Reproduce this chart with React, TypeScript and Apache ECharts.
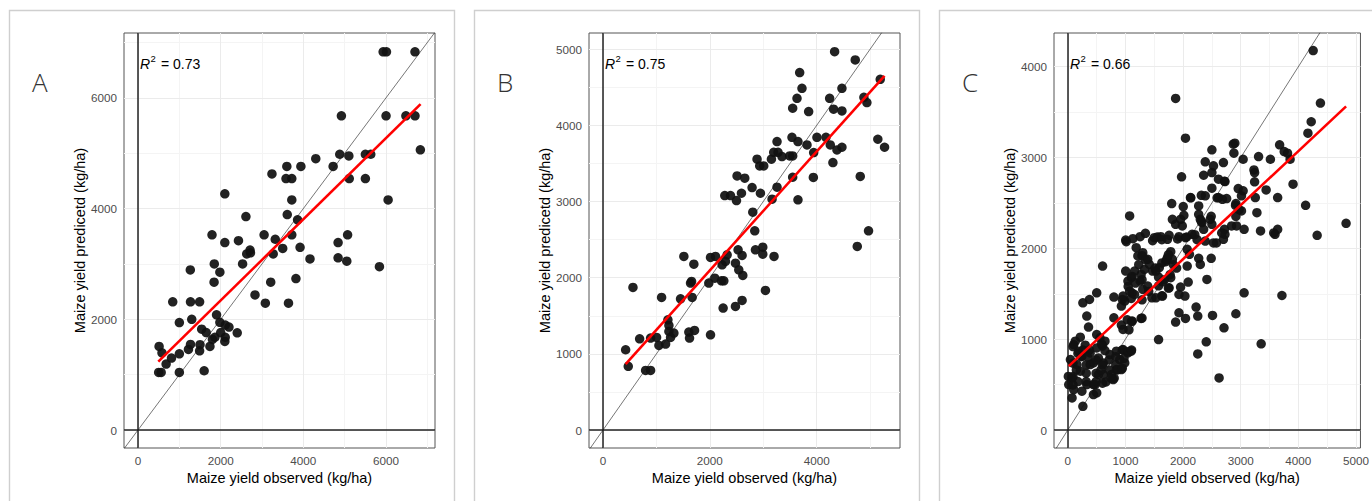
import React, { useEffect, useRef } from "react";
import * as echarts from "echarts";

// ---------- labels ----------
const panelLetters = ["A", "B", "C"];
const r2Values = ["0.73", "0.75", "0.66"];
const xAxisTitle = "Maize yield observed (kg/ha)";
const yAxisTitle = "Maize yield predicetd (kg/ha)";

// ---------- axes (ticks, minor grid, limits) ----------
const xTicksA = [0, 2000, 4000, 6000];
const yTicksA = [0, 2000, 4000, 6000];
const xMinorA = [1000, 3000, 5000, 7000];
const yMinorA = [1000, 3000, 5000, 7000];
const xLimA = [-339, 7184];
const yLimA = [-325, 7170];

const xTicksB = [0, 2000, 4000];
const yTicksB = [0, 1000, 2000, 3000, 4000, 5000];
const xMinorB = [1000, 3000, 5000];
const yMinorB = [500, 1500, 2500, 3500, 4500];
const xLimB = [-262, 5560];
const yLimB = [-236, 5213];

const xTicksC = [0, 1000, 2000, 3000, 4000, 5000];
const yTicksC = [0, 1000, 2000, 3000, 4000];
const xMinorC = [500, 1500, 2500, 3500, 4500];
const yMinorC = [500, 1500, 2500, 3500];
const xLimC = [-239, 5077];
const yLimC = [-198, 4371];

// ---------- data: [observed, predicted] ----------
const pointsA = [
  [500, 1040], [560, 1040], [1000, 1040], [1600, 1070],
  [680, 1190], [810, 1300], [1000, 1375], [580, 1395], [510, 1510],
  [1220, 1455], [1490, 1430], [1270, 1545], [1500, 1540], [1740, 1510],
  [1800, 1635], [1860, 1675], [2100, 1600], [2110, 1675],
  [1540, 1820], [1650, 1760], [2000, 1760], [2400, 1755],
  [2110, 1895], [2200, 1860], [1900, 2080], [1980, 1945], [1000, 1940], [1300, 2000],
  [840, 2315], [1270, 2315], [1490, 2315],
  [1840, 2670], [1265, 2890], [1845, 3000], [1980, 2850], [2530, 3000],
  [2830, 2440], [3080, 2290], [3640, 2290], [3210, 2670], [3820, 2735],
  [2630, 3180], [2720, 3200], [3270, 3180], [4160, 3090], [4840, 3110], [5050, 3050], [5840, 2950],
  [3500, 3280], [3920, 3300], [2710, 3250],
  [2100, 3385], [2430, 3420], [3320, 3445], [4840, 3385],
  [1790, 3525], [3050, 3525], [3720, 3525], [5070, 3525],
  [3860, 3795], [2610, 3855], [3610, 3890],
  [2100, 4265], [3720, 4155], [6050, 4155],
  [3240, 4625], [3580, 4540], [3720, 4540], [5110, 4540], [5500, 4540],
  [3600, 4760], [3940, 4760], [4720, 4760],
  [4300, 4900], [4880, 4980], [5100, 4950], [5500, 4980], [5630, 4980],
  [4920, 5675], [6000, 5675], [6480, 5675], [6700, 5675],
  [6830, 5060],
  [5930, 6830], [6010, 6830], [6700, 6830],
];

const pointsB = [
  [424, 1054], [473, 836], [561, 1872], [686, 1198], [798, 783], [891, 783], [891, 1207],
  [1003, 1216], [1047, 1111], [1172, 1128], [1097, 1741],
  [1215, 1447], [1234, 1374], [1234, 1295], [1327, 1273], [1265, 1216],
  [1607, 1286], [1620, 1207], [1714, 1308], [2013, 1250],
  [1452, 1723], [1669, 1741], [1639, 1929], [1658, 1951], [1981, 1929],
  [2093, 1994], [2218, 1959], [2262, 1959], [2249, 1601], [2480, 1623], [2604, 1702], [3041, 1833],
  [2230, 2169], [2293, 2213], [2480, 2191], [2542, 2103], [2617, 2030],
  [1514, 2279], [1701, 2178], [2013, 2266], [2106, 2279], [2324, 2300], [2529, 2366], [2604, 2292],
  [2854, 2366], [2991, 2401], [2991, 2309], [3202, 2279], [4760, 2410],
  [2841, 2615], [4971, 2615], [2804, 2860],
  [2499, 3013], [3165, 3031], [3650, 3022],
  [2280, 3079], [2387, 3079], [2592, 3109], [2947, 3109],
  [2791, 3184], [3258, 3188],
  [2510, 3337], [2654, 3306], [3551, 3319], [3938, 3316], [4816, 3329],
  [2934, 3468], [3009, 3468], [4304, 3512],
  [2884, 3556], [3153, 3556], [3196, 3647], [3277, 3647], [3351, 3591], [3495, 3599], [3551, 3599],
  [3944, 3643], [4380, 3678], [4473, 3713], [3819, 3743], [4255, 3743],
  [3258, 3787], [3650, 3787], [3538, 3844], [4005, 3844], [4174, 3844],
  [5145, 3818], [5271, 3713],
  [3850, 4181], [3551, 4225], [4317, 4212], [4473, 4189],
  [3632, 4356], [4243, 4356], [4884, 4369], [4940, 4300],
  [3725, 4487], [4473, 4487],
  [3682, 4693], [4722, 4859], [4336, 4968], [5190, 4605],
];

const pointsC = [
  [4257, 4177], [1871, 3651], [4383, 3599], [4223, 3394], [4166, 3268], [2042, 3213],
  [2871, 3147], [2898, 3158], [2882, 3048], [2500, 3085], [3675, 3140], [3755, 3066], [3812, 3048],
  [3857, 2981], [3042, 2981], [3310, 3011], [3515, 2981], [2385, 2953], [2528, 2909], [2500, 2835], [2700, 2945],
  [2357, 2805], [3230, 2864], [3241, 2835], [1974, 2787], [2614, 2761], [2727, 2735], [3241, 2732], [3908, 2706],
  [2500, 2662], [2957, 2658], [3042, 2633], [3441, 2643], [2128, 2559], [2317, 2584], [2385, 2578], [2614, 2559],
  [2683, 2540], [2756, 2548], [3013, 2578], [3253, 2559], [3641, 2559],
  [2910, 2474], [3013, 2412], [3281, 2393], [4126, 2474], [1803, 2493], [2003, 2460], [2271, 2467], [2134, 2556],
  [2591, 2556], [2717, 2739],
  [2014, 2364], [1957, 2320], [2271, 2375], [2299, 2320], [1073, 2357], [1815, 2320], [1871, 2265], [1986, 2247],
  [2470, 2320], [2500, 2265], [2328, 2283], [2357, 2209], [2488, 2353], [2317, 2298], [2916, 2353], [2973, 2427],
  [2916, 2493],
  [2717, 2209], [2727, 2154], [2842, 2247], [2928, 2247], [3059, 2209], [3344, 2192], [3595, 2154], [3641, 2209],
  [3573, 2170], [4326, 2143], [4828, 2276],
  [1005, 2092], [1130, 2107], [1255, 2129], [1347, 2165], [1501, 2118], [1614, 2129], [1758, 2143], [1929, 2129],
  [2042, 2118], [2157, 2154],
  [1015, 2074], [1187, 2007], [1472, 2085], [1552, 2125], [1632, 2096], [1729, 2100], [1905, 2103], [2243, 2095],
  [2385, 2080], [2528, 2060], [2700, 2100], [2580, 2059], [2203, 2151], [2060, 2125], [2671, 2170],
  [604, 1805], [1301, 1952], [1387, 1879], [1216, 1916], [1415, 1823], [1330, 1768], [1272, 1713], [1159, 1750],
  [1005, 1750], [1101, 1677], [1044, 1640], [1255, 1640], [1301, 1548], [1387, 1585], [1472, 1750], [1587, 1787],
  [1700, 1853], [1786, 1963], [1729, 1897], [1815, 1879], [2072, 1989], [2111, 1934], [2072, 1805], [2271, 1890],
  [2299, 1823], [2488, 1890], [2414, 1658], [2089, 1629], [1957, 1574], [1929, 1492], [2032, 1475], [1786, 1677],
  [1643, 1632], [1758, 1566], [1529, 1456], [1643, 1475], [1460, 1456], [1575, 1684], [1529, 1750],
  [1232, 1820], [1347, 1875], [1288, 1919], [1517, 1783], [1632, 1839], [1717, 1875], [1746, 1930], [1832, 1820],
  [1888, 1783], [1775, 1710], [1678, 1655], [1746, 1563], [1575, 1588], [1632, 1478], [1404, 1526], [1288, 1434],
  [1117, 1508], [1117, 1691], [1048, 1581], [1174, 1618], [1288, 1655],
  [1073, 1530], [959, 1475], [988, 1420], [930, 1365], [1101, 1448], [1159, 1492], [800, 1464], [947, 1437],
  [502, 1511], [377, 1437], [262, 1401], [330, 1254], [360, 1133], [800, 1235], [930, 1155], [1118, 1199],
  [1272, 1228], [959, 1107], [1575, 996], [1929, 1291], [2042, 1228], [1871, 1188], [2226, 1353], [2255, 1254],
  [2511, 1261], [2710, 1125], [2916, 1280], [3059, 1511], [3715, 1481], [2402, 971], [2255, 838], [3355, 949],
  [2625, 574], [1032, 1213], [1106, 1195], [1061, 1103], [1288, 1232],
  [217, 1022], [303, 934], [103, 941], [188, 868], [245, 813], [388, 849], [502, 904], [587, 949], [645, 875],
  [531, 794], [445, 739], [616, 739], [731, 831], [844, 868], [959, 886], [1044, 849], [1101, 868], [902, 775],
  [988, 739], [844, 665], [930, 665], [758, 610], [788, 555], [616, 610], [531, 610], [445, 500], [330, 500],
  [217, 647], [74, 574], [17, 500], [103, 445], [245, 427], [502, 408], [445, 390], [474, 500], [662, 529],
  [74, 353], [262, 261], [388, 720], [159, 720], [46, 775], [131, 978], [502, 1051], [559, 1015], [645, 978],
  [10, 590], [91, 735], [805, 570],
  [91, 919], [262, 881], [176, 845], [376, 881], [603, 926], [234, 808], [348, 801], [491, 772], [320, 717],
  [149, 662], [320, 625], [491, 625], [577, 662], [603, 717], [718, 772], [833, 808], [946, 881], [1048, 862],
  [1106, 881], [975, 789], [833, 717], [861, 662], [718, 662], [747, 570], [603, 515], [491, 533], [320, 533],
  [176, 533], [91, 496], [91, 588], [946, 680],
];

// ---------- fitted regression lines ----------
const fitA = [[491, 1234], [6835, 5885]];
const fitB = [[424, 866], [5271, 4649]];
const fitC = [[17, 703], [4828, 3563]];

// ---------- layout ----------
const gridLefts = [124, 589, 1054];
const boxLefts = [9, 474, 939];
const GRID_TOP = 33;
const GRID_W = 311;
const GRID_H = 415;

const FONT = "'Liberation Sans', Arial, Helvetica, sans-serif";

const panels = [
  { points: pointsA, fit: fitA, xTicks: xTicksA, yTicks: yTicksA, xMinor: xMinorA, yMinor: yMinorA, xLim: xLimA, yLim: yLimA },
  { points: pointsB, fit: fitB, xTicks: xTicksB, yTicks: yTicksB, xMinor: xMinorB, yMinor: yMinorB, xLim: xLimB, yLim: yLimB },
  { points: pointsC, fit: fitC, xTicks: xTicksC, yTicks: yTicksC, xMinor: xMinorC, yMinor: yMinorC, xLim: xLimC, yLim: yLimC },
];

function buildOption() {
  const grids: any[] = [];
  const xAxes: any[] = [];
  const yAxes: any[] = [];
  const series: any[] = [];
  const graphics: any[] = [];

  const majorStyle = { color: "#ebebeb", width: 1, type: "solid" };
  const minorStyle = { color: "#f4f4f4", width: 1, type: "solid" };

  panels.forEach((p, i) => {
    const gl = gridLefts[i];
    grids.push({
      left: gl,
      top: GRID_TOP,
      width: GRID_W,
      height: GRID_H,
      show: true,
      backgroundColor: "#ffffff",
      borderColor: "#555555",
      borderWidth: 1,
      containLabel: false,
    });
    xAxes.push({
      type: "value",
      gridIndex: i,
      min: p.xLim[0],
      max: p.xLim[1],
      axisLine: { show: false },
      axisTick: { show: true, length: 3, customValues: p.xTicks, lineStyle: { color: "#333333", width: 1 } },
      axisLabel: {
        show: true,
        customValues: p.xTicks,
        color: "#4d4d4d",
        fontSize: 11.7,
        fontFamily: FONT,
        margin: 6,
        formatter: (v: number) => (p.xTicks.indexOf(v) >= 0 ? String(v) : ""),
      },
      splitLine: { show: false },
      name: xAxisTitle,
      nameLocation: "middle",
      nameGap: 17,
      nameTextStyle: { color: "#000000", fontSize: 14.5, fontFamily: FONT },
    });
    yAxes.push({
      type: "value",
      gridIndex: i,
      min: p.yLim[0],
      max: p.yLim[1],
      axisLine: { show: false },
      axisTick: { show: true, length: 3, customValues: p.yTicks, lineStyle: { color: "#333333", width: 1 } },
      axisLabel: {
        show: true,
        customValues: p.yTicks,
        color: "#4d4d4d",
        fontSize: 11.7,
        fontFamily: FONT,
        margin: 7,
        formatter: (v: number) => (p.yTicks.indexOf(v) >= 0 ? String(v) : ""),
      },
      splitLine: { show: false },
      name: yAxisTitle,
      nameLocation: "middle",
      nameGap: 37,
      nameRotate: 90,
      nameTextStyle: { color: "#000000", fontSize: 14.5, fontFamily: FONT },
    });

    // grid lines
    const gridLineData: any[] = [];
    p.xMinor.forEach((v) => gridLineData.push({ xAxis: v, lineStyle: minorStyle }));
    p.yMinor.forEach((v) => gridLineData.push({ yAxis: v, lineStyle: minorStyle }));
    p.xTicks.forEach((v) => gridLineData.push({ xAxis: v, lineStyle: majorStyle }));
    p.yTicks.forEach((v) => gridLineData.push({ yAxis: v, lineStyle: majorStyle }));
    series.push({
      type: "line",
      xAxisIndex: i,
      yAxisIndex: i,
      data: [[0, 0]],
      showSymbol: false,
      symbol: "none",
      lineStyle: { opacity: 0 },
      silent: true,
      z: 1,
      markLine: {
        silent: true,
        z: 1,
        symbol: ["none", "none"],
        label: { show: false },
        animation: false,
        data: gridLineData,
      },
    });

    // 1:1 line and zero reference lines
    const lo = Math.min(p.xLim[0], p.yLim[0]);
    const hi = Math.max(p.xLim[1], p.yLim[1]);
    series.push({
      type: "line",
      xAxisIndex: i,
      yAxisIndex: i,
      data: [[lo, lo], [hi, hi]],
      symbol: "none",
      clip: true,
      silent: true,
      lineStyle: { color: "#1a1a1a", width: 0.6 },
      z: 2,
      markLine: {
        silent: true,
        z: 2,
        symbol: ["none", "none"],
        label: { show: false },
        animation: false,
        lineStyle: { color: "#222222", width: 1.5, type: "solid" },
        data: [{ xAxis: 0 }, { yAxis: 0 }],
      },
    });

    // points
    series.push({
      type: "scatter",
      xAxisIndex: i,
      yAxisIndex: i,
      data: p.points,
      symbol: "circle",
      symbolSize: 9.5,
      silent: true,
      itemStyle: { color: "#111111", opacity: 0.93 },
      z: 3,
    });

    // regression line
    series.push({
      type: "line",
      xAxisIndex: i,
      yAxisIndex: i,
      data: p.fit,
      symbol: "none",
      silent: true,
      lineStyle: { color: "#ff0000", width: 2.6 },
      z: 4,
    });

    // panel border box
    graphics.push({
      type: "rect",
      silent: true,
      z: -1,
      shape: { x: boxLefts[i] + 0.5, y: 10.5, width: 445, height: 520 },
      style: { fill: "none", stroke: "#cfcfcf", lineWidth: 1.4 },
    });
    // panel letter
    graphics.push({
      type: "text",
      silent: true,
      z: 100,
      x: boxLefts[i] + 23,
      y: 82,
      style: {
        text: panelLetters[i],
        fill: "#333333",
        fontSize: 26,
        fontWeight: 300,
        fontFamily: "'Open Sans', 'Lato', sans-serif",
        textAlign: "left",
        textVerticalAlign: "middle",
      },
    });
    // R^2 annotation
    graphics.push({
      type: "text",
      silent: true,
      z: 100,
      x: gl + 16,
      y: 63.5,
      style: {
        text: "R",
        fill: "#000000",
        fontSize: 14,
        fontStyle: "italic",
        fontFamily: FONT,
        textAlign: "left",
        textVerticalAlign: "middle",
      },
    });
    graphics.push({
      type: "text",
      silent: true,
      z: 100,
      x: gl + 26.6,
      y: 58.5,
      style: {
        text: "2",
        fill: "#000000",
        fontSize: 9.5,
        fontFamily: FONT,
        textAlign: "left",
        textVerticalAlign: "middle",
      },
    });
    graphics.push({
      type: "text",
      silent: true,
      z: 100,
      x: gl + 37,
      y: 63.5,
      style: {
        text: "= " + r2Values[i],
        fill: "#000000",
        fontSize: 14,
        fontFamily: FONT,
        textAlign: "left",
        textVerticalAlign: "middle",
      },
    });
  });

  return {
    animation: false,
    backgroundColor: "#ffffff",
    grid: grids,
    xAxis: xAxes,
    yAxis: yAxes,
    series,
    graphic: graphics,
  };
}

export default function App() {
  const ref = useRef<HTMLDivElement | null>(null);
  useEffect(() => {
    if (!ref.current) return;
    const chart = echarts.init(ref.current, undefined, { renderer: "svg" });
    chart.setOption(buildOption() as any);
    return () => {
      chart.dispose();
    };
  }, []);
  return (
    <div
      ref={ref}
      style={{ position: "fixed", left: 0, top: 0, width: 1372, height: 501, background: "#ffffff" }}
    />
  );
}
